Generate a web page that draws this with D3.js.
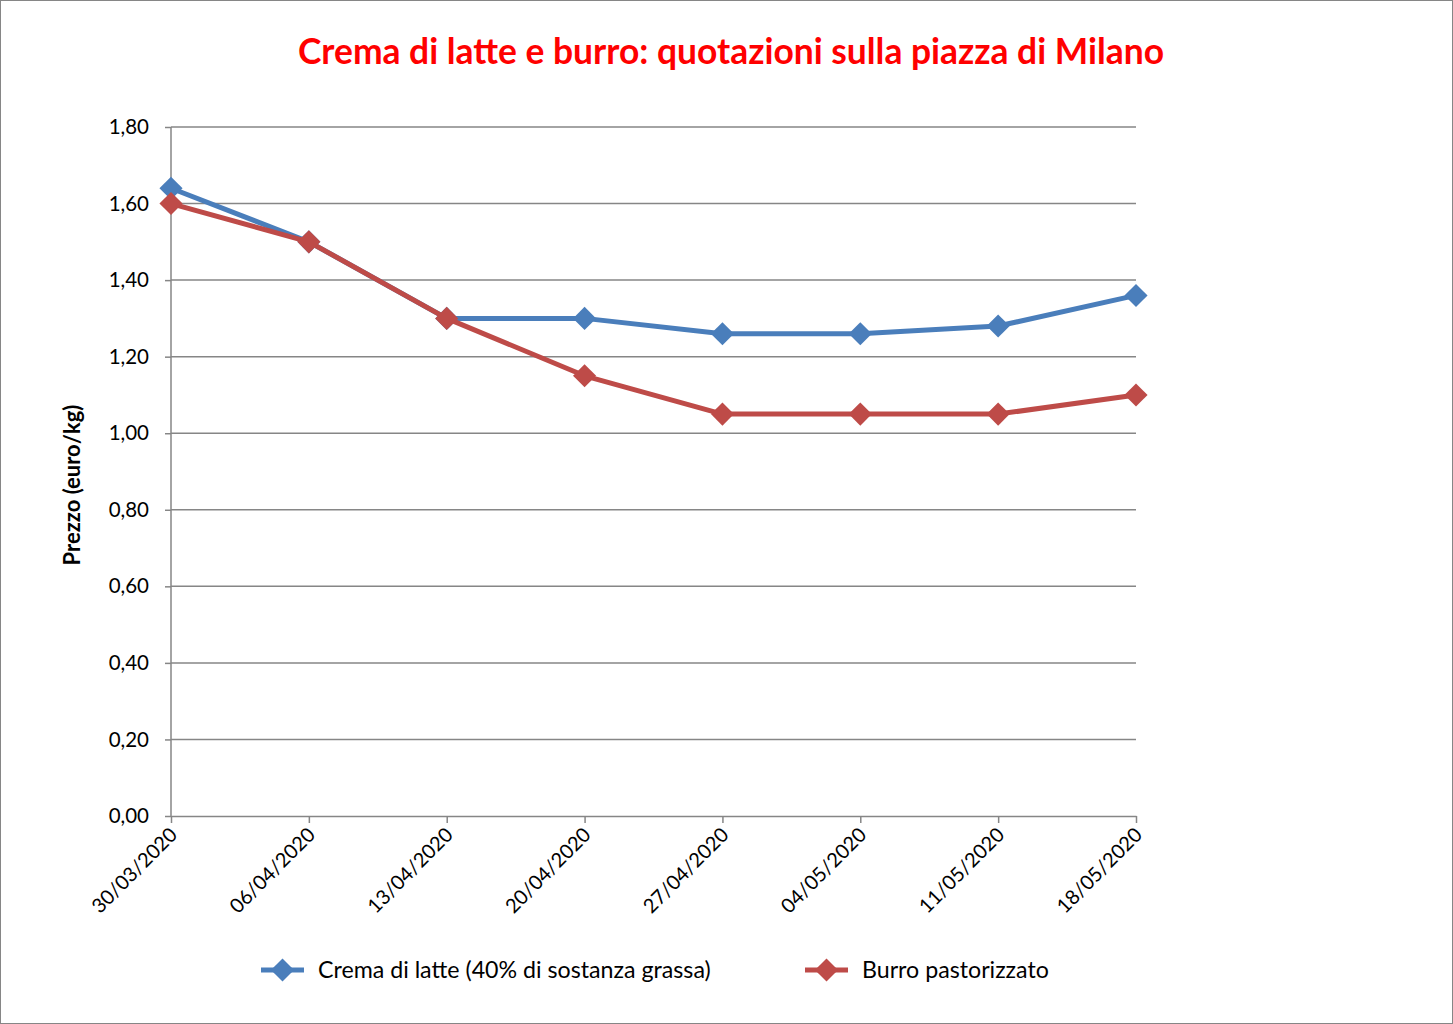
<!DOCTYPE html>
<html><head><meta charset="utf-8">
<script src="https://cdn.jsdelivr.net/npm/d3@7"></script>
<style>body{margin:0;background:#fff}svg{display:block}</style>
</head><body>
<script>
const dates = ["30/03/2020","06/04/2020","13/04/2020","20/04/2020","27/04/2020","04/05/2020","11/05/2020","18/05/2020"];
const crema = [1.64,1.50,1.30,1.30,1.26,1.26,1.28,1.36];
const burro = [1.60,1.50,1.30,1.15,1.05,1.05,1.05,1.10];
const yTicks = [0,0.2,0.4,0.6,0.8,1.0,1.2,1.4,1.6,1.8];
const seriesNames = ["Crema di latte (40% di sostanza grassa)","Burro pastorizzato"];
const colors = ["#4a7ebb","#be4b48"];
const titleText = "Crema di latte e burro: quotazioni sulla piazza di Milano";
const yLabel = "Prezzo (euro/kg)";

const W=1453,H=1024;
const svg=d3.select("body").append("svg").attr("width",W).attr("height",H);
const font="Lato, 'Open Sans', sans-serif";
svg.append("rect").attr("x",0.5).attr("y",0.5).attr("width",W-1).attr("height",H-1).attr("fill","#fff").attr("stroke","#868686");

const x=d3.scalePoint().domain(dates).range([171,1136]);
const y=d3.scaleLinear().domain([0,1.8]).range([816,127]);
const fmt=d=>d3.format(".2f")(d).replace(".",",");

svg.append("g").selectAll("line").data(yTicks.slice(1)).join("line")
 .attr("x1",171).attr("x2",1136).attr("y1",d=>y(d)).attr("y2",d=>y(d))
 .attr("stroke","#868686").attr("stroke-width",1.5);

const ya=svg.append("g").attr("transform","translate(171,0)")
 .call(d3.axisLeft(y).tickValues(yTicks).tickFormat(fmt).tickSize(6).tickPadding(16));
ya.select(".domain").remove();
ya.selectAll("line").attr("stroke","#868686").attr("stroke-width",1.5);
ya.selectAll("text").attr("font-family",font).attr("font-size",20.5).attr("fill","#000");
svg.append("line").attr("x1",171).attr("x2",171).attr("y1",127).attr("y2",816).attr("stroke","#868686").attr("stroke-width",1.5);

const xa=svg.append("g").attr("transform","translate(0,816)")
 .call(d3.axisBottom(x).tickSize(7).tickSizeOuter(0));
xa.select(".domain").attr("stroke","#868686").attr("stroke-width",1.5);
xa.selectAll("line").attr("stroke","#868686").attr("stroke-width",1.5);
xa.selectAll("text").attr("font-family",font).attr("font-size",20).attr("fill","#000")
 .attr("text-anchor","end").attr("dy",0).attr("y",0)
 .attr("transform","translate(7,20) rotate(-45)");

const line=d3.line().x((d,i)=>x(dates[i])).y(d=>y(d));
const sym=d3.symbol().type(d3.symbolDiamond2).size(340);
[crema,burro].forEach((s,k)=>{
 svg.append("path").datum(s).attr("d",line).attr("fill","none").attr("stroke",colors[k]).attr("stroke-width",5).attr("stroke-linejoin","round");
 svg.append("g").selectAll("path").data(s).join("path").attr("d",sym)
  .attr("transform",(d,i)=>`translate(${x(dates[i])},${y(d)})`).attr("fill",colors[k]);
});

svg.append("text").attr("x",731).attr("y",64).attr("text-anchor","middle")
 .attr("font-family",font).attr("font-weight","bold").attr("font-size",35.4).attr("fill","#ff0000").text(titleText);
svg.append("text").attr("transform","translate(80,485) rotate(-90)").attr("text-anchor","middle")
 .attr("font-family",font).attr("font-weight","bold").attr("font-size",22).attr("fill","#000").text(yLabel);

const lg=[{x:261,tx:318},{x:805,tx:862}];
lg.forEach((p,k)=>{
 svg.append("line").attr("x1",p.x).attr("x2",p.x+43).attr("y1",970).attr("y2",970).attr("stroke",colors[k]).attr("stroke-width",5);
 svg.append("path").attr("d",sym).attr("transform",`translate(${p.x+21.5},970)`).attr("fill",colors[k]);
 svg.append("text").attr("x",p.tx).attr("y",978).attr("font-family",font).attr("font-size",23.2).attr("fill","#000").text(seriesNames[k]);
});
</script>
</body></html>
